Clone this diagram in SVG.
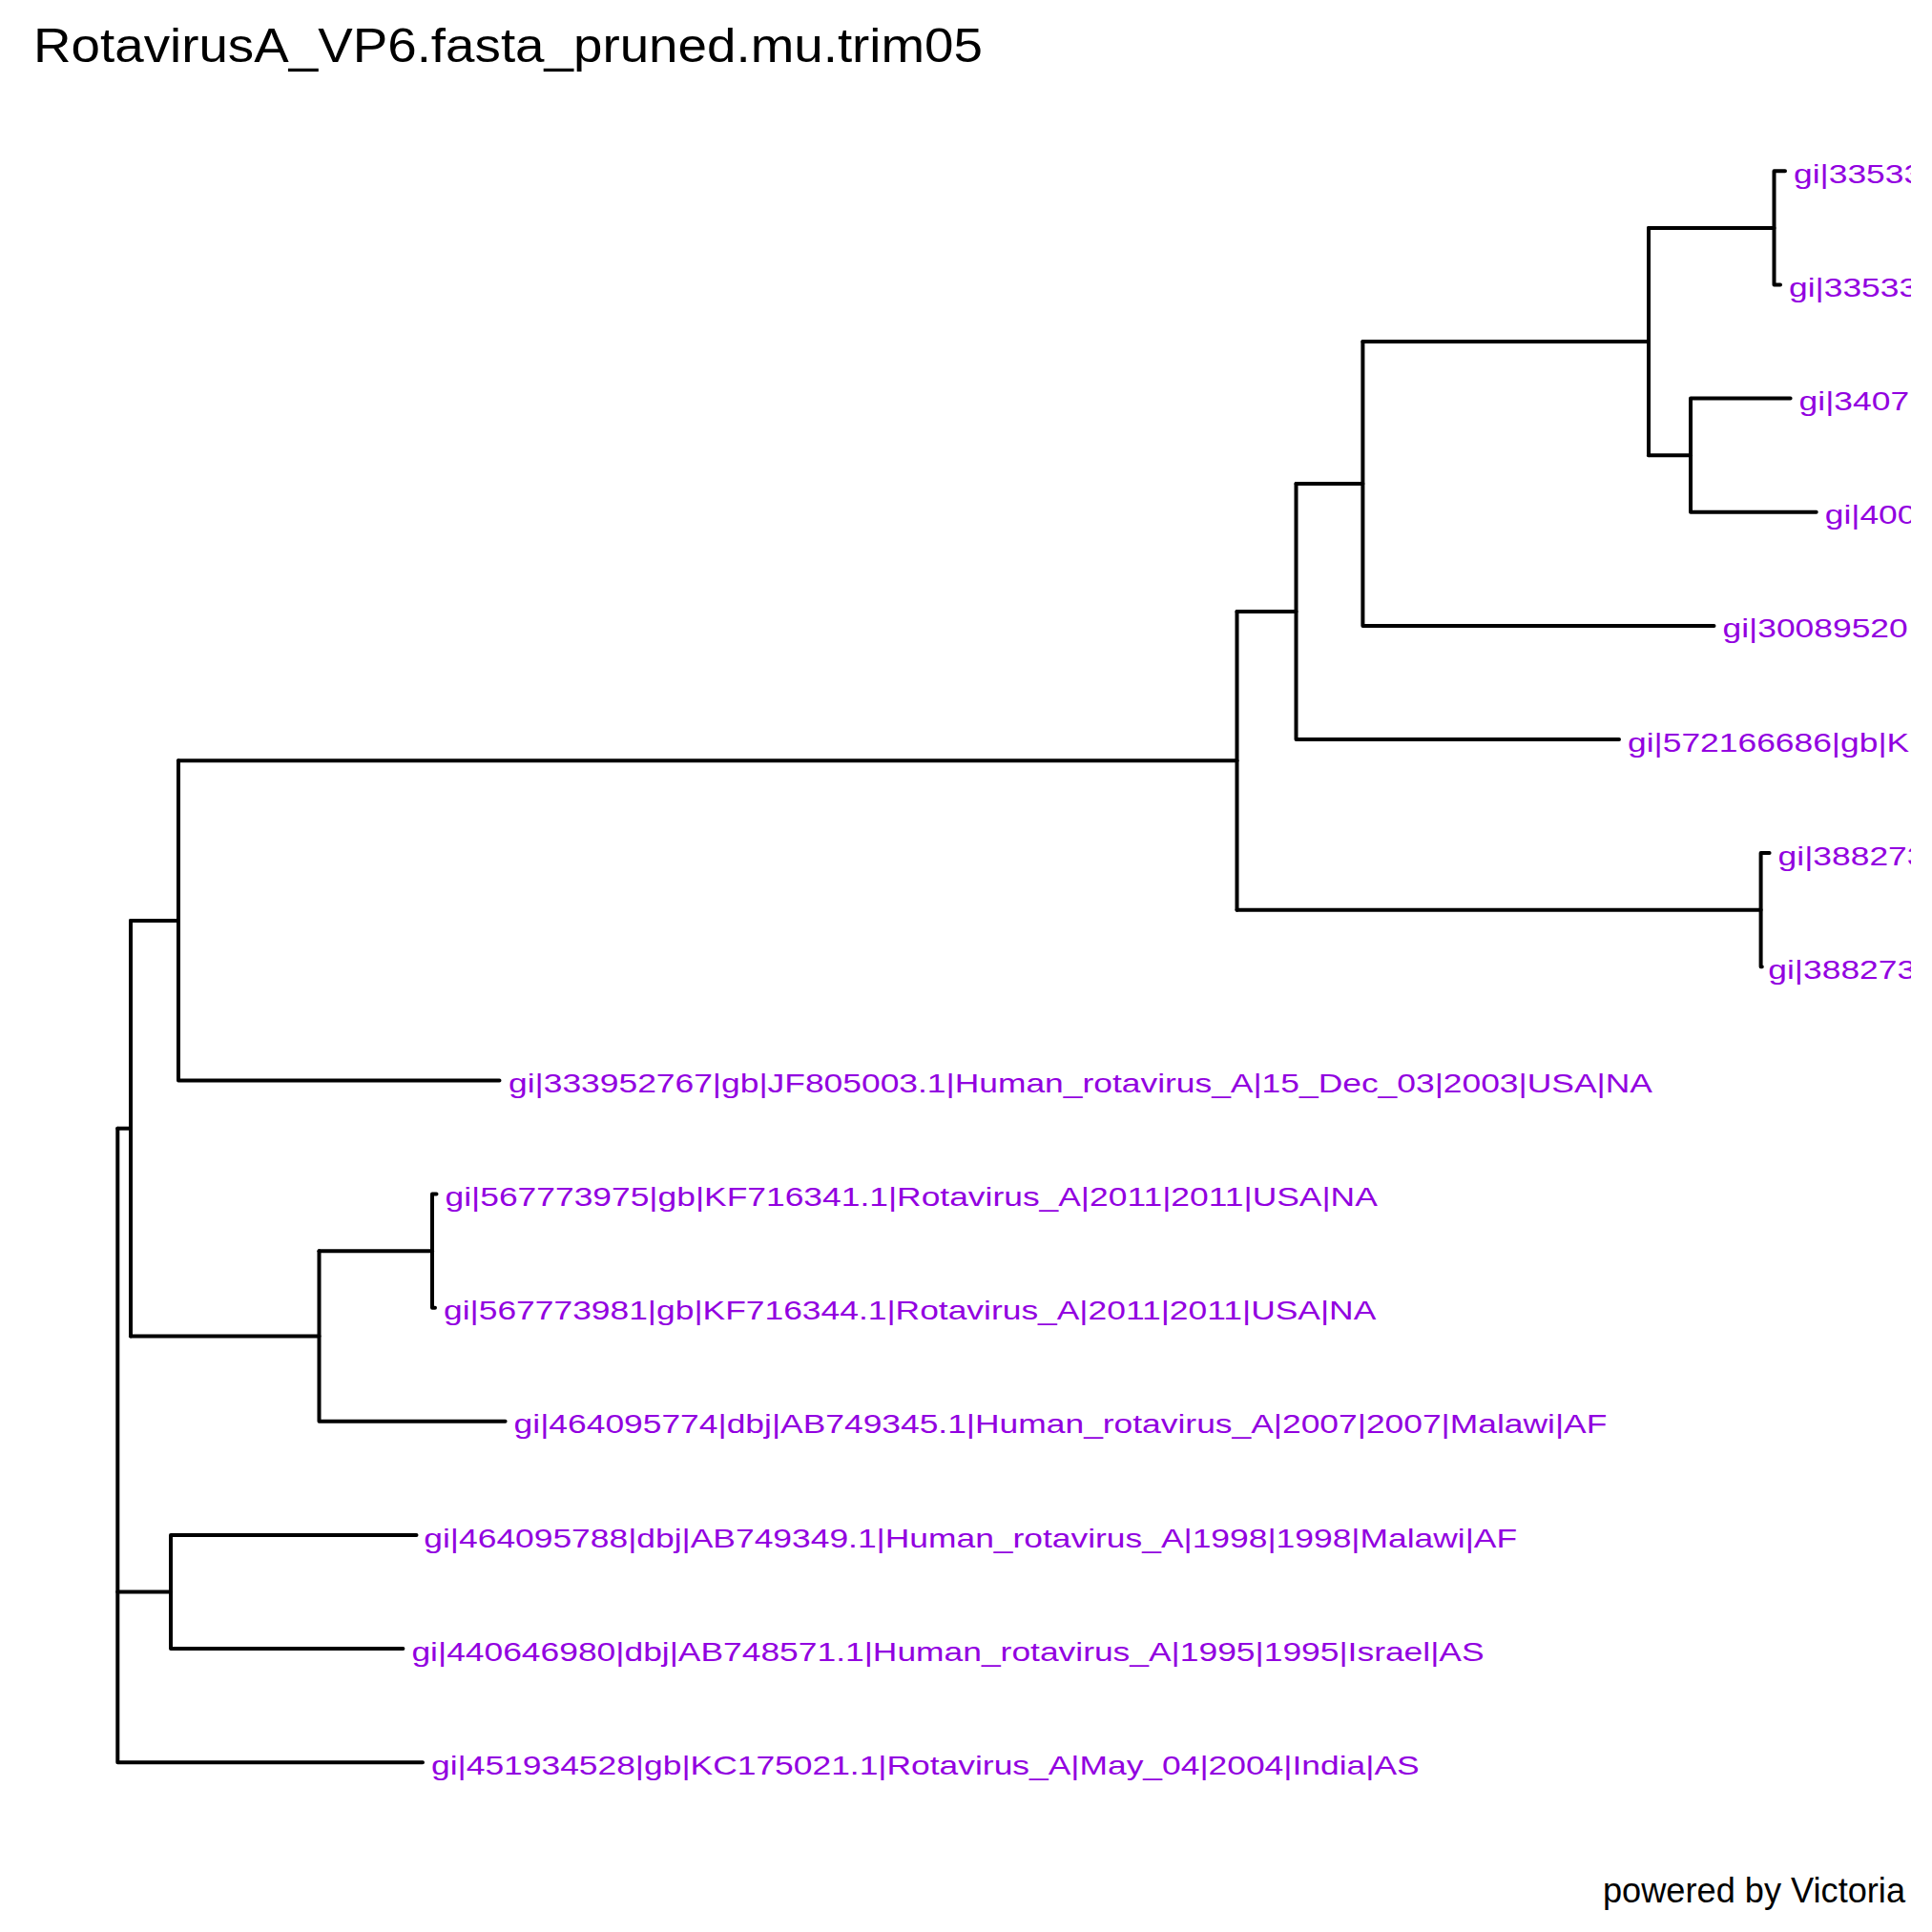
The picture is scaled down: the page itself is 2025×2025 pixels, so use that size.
<svg xmlns="http://www.w3.org/2000/svg" width="2025" height="2025" viewBox="0 0 2025 2025">
<style>
.br{fill:none;stroke:#000;stroke-width:4;stroke-linecap:round;stroke-linejoin:round}
.lbl{font-family:"Liberation Sans",Arial,sans-serif;font-size:28.5px;fill:#9200E0}
.ttl{font-family:"Liberation Sans",Arial,sans-serif;font-size:50px;fill:#000}
.ftr{font-family:"Liberation Sans",Arial,sans-serif;font-size:37px;fill:#000}
</style>
<defs>
<clipPath id="panel"><rect x="0" y="0" width="2003" height="2025"/></clipPath>
</defs>
<rect x="0" y="0" width="2025" height="2025" fill="#fff"/>
<text class="ttl" x="35" y="64.5" textLength="995" lengthAdjust="spacingAndGlyphs">RotavirusA_VP6.fasta_pruned.mu.trim05</text>
<g id="connectors">
<path class="br" d="M1871,179.3 H1859.5 V298.4 H1866"/>
<path class="br" d="M1728,238.9 H1859.5"/>
<path class="br" d="M1876.6,417.6 H1772 V536.7 H1903.7"/>
<path class="br" d="M1728,477.2 H1772"/>
<path class="br" d="M1428.4,358 H1728 V477.2"/>
<path class="br" d="M1728,358 V238.9"/>
<path class="br" d="M1428.4,358 V655.9 H1796.5"/>
<path class="br" d="M1358.5,506.9 H1428.4"/>
<path class="br" d="M1358.5,506.9 V775 H1697"/>
<path class="br" d="M1296.5,641 H1358.5"/>
<path class="br" d="M1854.6,894.1 H1845.6 V1013.3 H1846.8"/>
<path class="br" d="M1296.5,953.7 H1845.6"/>
<path class="br" d="M1296.5,641 V953.7"/>
<path class="br" d="M187,797.3 H1296.5"/>
<path class="br" d="M187,797.3 V1132.4 H523.5"/>
<path class="br" d="M137,964.9 H187"/>
<path class="br" d="M457.5,1251.6 H453 V1370.7 H456"/>
<path class="br" d="M334.5,1311.2 H453"/>
<path class="br" d="M334.5,1311.2 V1489.8 H529.6"/>
<path class="br" d="M137,1400.5 H334.5"/>
<path class="br" d="M137,964.9 V1400.5"/>
<path class="br" d="M123.3,1182.7 H137"/>
<path class="br" d="M123.3,1182.7 V1847.3 H443"/>
<path class="br" d="M123.3,1668.6 H179"/>
<path class="br" d="M436.5,1609 H179 V1728.1 H422.4"/>
</g>
<g clip-path="url(#panel)">
<g id="leaf1"><text class="lbl" transform="translate(1880,191.8) scale(1.242,1)">gi|33533</text></g>
<g id="leaf2"><text class="lbl" transform="translate(1875,310.9) scale(1.242,1)">gi|33533</text></g>
<g id="leaf3"><text class="lbl" transform="translate(1885.6,430.1) scale(1.242,1)">gi|3407</text></g>
<g id="leaf4"><text class="lbl" transform="translate(1912.7,549.2) scale(1.242,1)">gi|400</text></g>
<g id="leaf5"><text class="lbl" transform="translate(1805.5,668.4) scale(1.242,1)">gi|30089520</text></g>
<g id="leaf6"><text class="lbl" transform="translate(1706,787.5) scale(1.242,1)">gi|572166686|gb|K</text></g>
<g id="leaf7"><text class="lbl" transform="translate(1863.6,906.6) scale(1.242,1)">gi|388273</text></g>
<g id="leaf8"><text class="lbl" transform="translate(1853.3,1025.8) scale(1.242,1)">gi|388273</text></g>
<g id="leaf9"><text class="lbl" transform="translate(533,1144.9) scale(1.242,1)">gi|333952767|gb|JF805003.1|Human_rotavirus_A|15_Dec_03|2003|USA|NA</text></g>
<g id="leaf10"><text class="lbl" transform="translate(466.5,1264.1) scale(1.242,1)">gi|567773975|gb|KF716341.1|Rotavirus_A|2011|2011|USA|NA</text></g>
<g id="leaf11"><text class="lbl" transform="translate(465,1383.2) scale(1.242,1)">gi|567773981|gb|KF716344.1|Rotavirus_A|2011|2011|USA|NA</text></g>
<g id="leaf12"><text class="lbl" transform="translate(538.6,1502.3) scale(1.242,1)">gi|464095774|dbj|AB749345.1|Human_rotavirus_A|2007|2007|Malawi|AF</text></g>
<g id="leaf13"><text class="lbl" transform="translate(444.3,1621.5) scale(1.242,1)">gi|464095788|dbj|AB749349.1|Human_rotavirus_A|1998|1998|Malawi|AF</text></g>
<g id="leaf14"><text class="lbl" transform="translate(431.4,1740.6) scale(1.242,1)">gi|440646980|dbj|AB748571.1|Human_rotavirus_A|1995|1995|Israel|AS</text></g>
<g id="leaf15"><text class="lbl" transform="translate(452,1859.8) scale(1.242,1)">gi|451934528|gb|KC175021.1|Rotavirus_A|May_04|2004|India|AS</text></g>
</g>
<text class="ftr" x="1680" y="1993.5" textLength="317" lengthAdjust="spacingAndGlyphs">powered by Victoria</text>
</svg>
